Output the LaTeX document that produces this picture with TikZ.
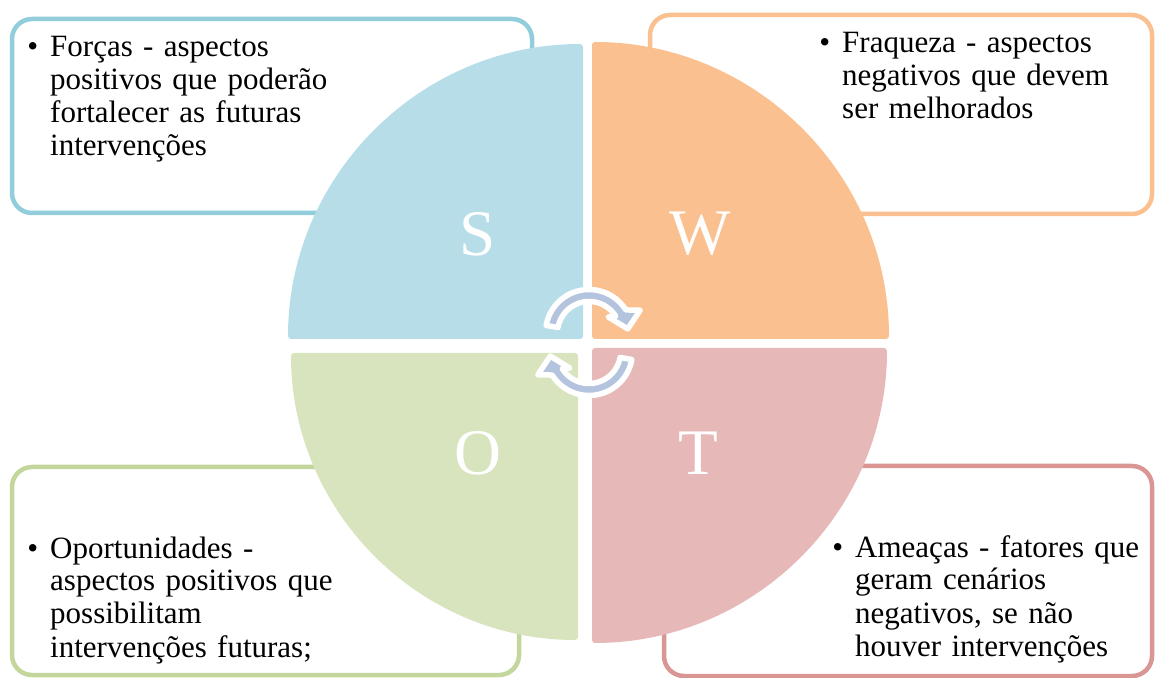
\documentclass[tikz,border=0pt]{standalone}
\usepackage{fontspec}
\setmainfont{Liberation Serif}
\usetikzlibrary{calc}
\definecolor{fillS}{HTML}{B7DEE8}
\definecolor{fillW}{HTML}{FAC090}
\definecolor{fillO}{HTML}{D7E4BD}
\definecolor{fillT}{HTML}{E6B9B8}
\definecolor{lineS}{HTML}{92CDDC}
\definecolor{lineW}{HTML}{FAC090}
\definecolor{lineO}{HTML}{C3D69B}
\definecolor{lineT}{HTML}{D99694}
\definecolor{arrc}{HTML}{B4C4DF}
\begin{document}
\begin{tikzpicture}[x=1pt,y=1pt,
  txtbox/.style={line width=4.5pt, fill=white, rounded corners=20pt},
  quad/.style={draw=none, rounded corners=3pt},
  letter/.style={text=white, font=\fontsize{65}{65}\selectfont, inner sep=0pt},
  bodytext/.style={font=\fontsize{31}{33}\selectfont, text width=340pt, align=left, inner sep=0pt, anchor=base west},
  cycarrow/.style={fill=arrc, draw=white, line width=5.5pt, line join=round}]
\useasboundingbox (0,0) rectangle (1155,677);
% text boxes
\draw[txtbox, draw=lineS] (12,464) rectangle (532,658);
\draw[txtbox, draw=lineW] (650,463) rectangle (1152,662);
\draw[txtbox, draw=lineO] (12,2) rectangle (519,210);
\draw[txtbox, draw=lineT] (664,1) rectangle (1152,211);
% quadrants
\coordinate (cS) at (583,338);
\coordinate (cW) at (592,338);
\coordinate (cO) at (578,324);
\coordinate (cT) at (592,329);
\fill[quad, fillS] (cS) -- ++(-295,0) arc[start angle=180, end angle=90, radius=295] -- cycle;
\fill[quad, fillW] (cW) -- ++(0,297) arc[start angle=90, end angle=0, radius=297] -- cycle;
\fill[quad, fillO] (cO) -- ++(-287,0) arc[start angle=180, end angle=270, radius=287] -- cycle;
\fill[quad, fillT] (cT) -- ++(295,0) arc[start angle=0, end angle=-90, radius=295] -- cycle;
% letters
\node[letter] (lS) at (478,443) {S};
\node[letter] (lW) at (700,443) {W};
\node[letter] (lO) at (478,224) {O};
\node[letter] (lT) at (698,224) {T};
% circular arrows
\coordinate (uc) at (589,344);
\coordinate (lc) at (589,325);
\draw[cycarrow] ($(uc)+(170:43.5)$) arc[start angle=170, end angle=32, radius=43.5]
  -- ($(uc)+(24:56)$) -- ($(uc)+(6:39)$) -- ($(uc)+(40:25)$) -- ($(uc)+(32:31.5)$)
  arc[start angle=32, end angle=170, radius=31.5] -- cycle;
\draw[cycarrow] ($(lc)+(350:43.5)$) arc[start angle=350, end angle=212, radius=43.5]
  -- ($(lc)+(204:56)$) -- ($(lc)+(186:39)$) -- ($(lc)+(220:25)$) -- ($(lc)+(212:31.5)$)
  arc[start angle=212, end angle=350, radius=31.5] -- cycle;
% texts
\node[bodytext] (tS) at (50,620) {\llap{\textbullet\hspace{12pt}}Forças - aspectos\\positivos que poderão\\fortalecer as futuras\\intervenções};
\node[bodytext] (tW) at (842,624) {\llap{\textbullet\hspace{12pt}}Fraqueza - aspectos\\negativos que devem\\ser melhorados};
\node[bodytext] (tO) at (50,119) {\llap{\textbullet\hspace{12pt}}Oportunidades -\\aspectos positivos que\\possibilitam\\intervenções futuras;};
\node[bodytext] (tT) at (855,120) {\llap{\textbullet\hspace{12pt}}Ameaças - fatores que\\geram cenários\\negativos, se não\\houver intervenções};
\end{tikzpicture}
\end{document}
